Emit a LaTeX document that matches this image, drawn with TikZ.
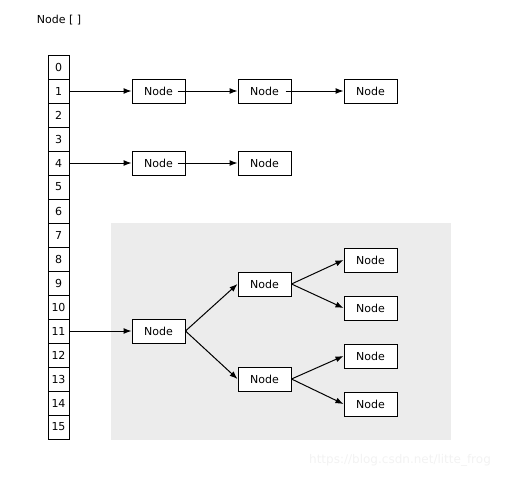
\documentclass[tikz,border=0pt]{standalone}
\usepackage{fontspec}
\setmainfont{DejaVu Sans}
\usepackage{tikz}
\usetikzlibrary{arrows.meta}

\tikzset{
    cell/.style={draw,line width=1pt,minimum width=21pt,minimum height=24pt,inner sep=0pt},
    hnode/.style={draw,fill=white,line width=1pt,minimum width=53pt,minimum height=24pt,inner sep=0pt},
    link/.style={-{Latex[length=8pt,width=6pt]},line width=1pt},
}

\begin{document}
\begin{tikzpicture}[x=1pt,y=-1pt,font=\fontsize{11}{13}\selectfont]
\useasboundingbox (0,0) rectangle (512,479);
\fill[black!7.5] (111,223) rectangle (451,440);

\node (title) at (59,20) {Node [ ]};

\foreach \i in {0,...,15}{
    \node[cell] (cell\i) at (58.5,67+24*\i) {\i};
}

\node[hnode] (a1) at (158.5,91) {Node};
\node[hnode] (a2) at (264.5,91) {Node};
\node[hnode] (a3) at (370.5,91) {Node};

\node[hnode] (b1) at (158.5,163) {Node};
\node[hnode] (b2) at (264.5,163) {Node};

\node[hnode] (root) at (158.5,331) {Node};
\node[hnode] (up) at (264.5,284) {Node};
\node[hnode] (down) at (264.5,379) {Node};
\node[hnode] (leaf1) at (370.5,260) {Node};
\node[hnode] (leaf2) at (370.5,308) {Node};
\node[hnode] (leaf3) at (370.5,356) {Node};
\node[hnode] (leaf4) at (370.5,404) {Node};

\node[black!5,font=\fontsize{12}{14}\selectfont] (mark) at (400,460) {https://blog.csdn.net/litte\_frog};

\draw[link] (cell1.east) -- (a1.west);
\draw[link] ([xshift=-8pt]a1.east) -- (a2.west);
\draw[link] ([xshift=-6pt]a2.east) -- (a3.west);

\draw[link] (cell4.east) -- (b1.west);
\draw[link] ([xshift=-8pt]b1.east) -- (b2.west);

\draw[link] (cell11.east) -- (root.west);
\draw[link] (root.east) -- (up.west);
\draw[link] (root.east) -- (down.west);
\draw[link] (up.east) -- (leaf1.west);
\draw[link] (up.east) -- (leaf2.west);
\draw[link] (down.east) -- (leaf3.west);
\draw[link] (down.east) -- (leaf4.west);
\end{tikzpicture}
\end{document}
